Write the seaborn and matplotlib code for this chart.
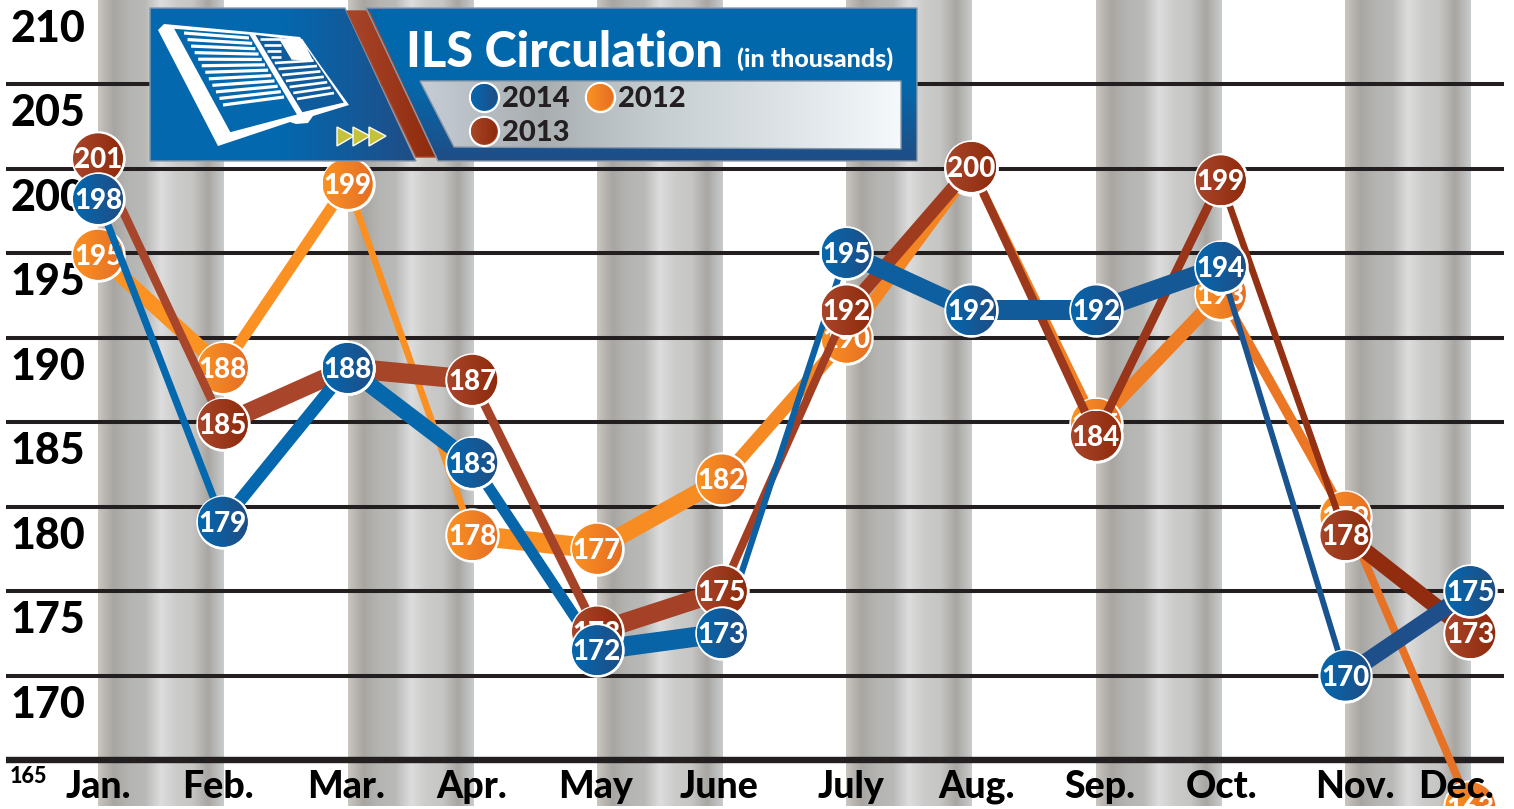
"""ILS circulation by month, 2012-2014, with the banner header."""

import matplotlib

matplotlib.use("Agg")

import matplotlib.pyplot as plt
import numpy as np
import seaborn as sns
from matplotlib.colors import LinearSegmentedColormap, to_rgb
from matplotlib.patches import Ellipse, Polygon

months = ["Jan.", "Feb.", "Mar.", "Apr.", "May", "June", "July", "Aug.", "Sep.", "Oct.", "Nov.", "Dec."]
y_ticks = [210, 205, 200, 195, 190, 185, 180, 175, 170]

# values as they sit on the picture, labels as printed on the bubbles
values_2012 = [194.9, 188.2, 199.1, 178.3, 177.5, 181.6, 190.0, 200.0, 184.9, 192.6, 179.4, 162.2]
values_2013 = [200.6, 184.9, 188.2, 187.5, 172.6, 175.0, 191.6, 200.1, 184.2, 199.3, 178.3, 172.5]
values_2014 = [198.2, 179.1, 188.2, 182.6, 171.5, 172.5, 195.0, 191.6, 191.6, 194.2, 170.0, 175.0]
labels_2012 = [195, 188, 199, 178, 177, 182, 190, 200, 185, 193, 179, 163]
labels_2013 = [201, 185, 188, 187, 173, 175, 192, 200, 184, 199, 178, 173]
labels_2014 = [198, 179, 188, 183, 172, 173, 195, 192, 192, 194, 170, 175]

W, H = 1514, 809
X0, DX = 98.0, 124.75  # pixel of Jan. and pixels per month
Y165, DY = 760.0, 16.9  # pixel of 165 and pixels per unit
FONT = ["Lato", "DejaVu Sans"]
BLUE = ("#0468ae", "#204d86")
ORANGE = ("#fb9222", "#e56e25")
BROWN = ("#a8462b", "#8f2a0b")
DARK = "#231f20"

sns.set_theme(style="white")
plt.rcParams["font.family"] = FONT

fig = plt.figure(figsize=(W / 100, H / 100), dpi=100)
ax = fig.add_axes([0, 0, 1, 1])
ax.axis("off")


def cmap(*colors):
    return LinearSegmentedColormap.from_list("g", colors)


def gradient(target, extent, colors, zorder, clip=None, vertical=False):
    ramp = np.linspace(0, 1, 256).reshape(-1, 1) if vertical else np.linspace(0, 1, 256).reshape(1, -1)
    im = target.imshow(ramp, extent=extent, cmap=cmap(*colors), aspect="auto", zorder=zorder, interpolation="bilinear")
    if clip is not None:
        im.set_clip_path(clip)
    return im


def draw_lines(values, colors, zorder):
    # the source was stretched sideways: every segment has the same vertical thickness
    a, b = np.array(to_rgb(colors[0])), np.array(to_rgb(colors[1]))
    for i in range(len(values) - 1):
        dy = (values[i + 1] - values[i]) * DY
        width = 20 * 0.72 * DX / np.hypot(DX, dy)
        mix = (i + 0.5) / (len(values) - 1)
        sns.lineplot(
            x=[i, i + 1], y=values[i:i + 2], ax=ax, color=tuple(a + (b - a) * mix ** 2),
            linewidth=width, zorder=zorder, solid_capstyle="butt", legend=False, errorbar=None,
        )


def draw_bubbles(values, labels, colors, zorder):
    xs = list(range(len(values)))
    sns.scatterplot(x=xs, y=values, ax=ax, s=1370, color=colors[0], edgecolor="white", linewidth=2.2,
                    zorder=zorder, legend=False, clip_on=True)
    rx, ry = 25 / DX, 25 / DY
    for x, v, lab in zip(xs, values, labels):
        circle = Ellipse((x, v), 2 * rx, 2 * ry, transform=ax.transData)
        gradient(ax, (x - rx, x + rx, v - ry, v + ry), colors, zorder + 0.1, clip=circle)
        ax.text(x, v - 0.12, str(lab), color="white", fontsize=20, fontweight="black",
                ha="center", va="center", zorder=zorder + 0.2)


# grey columns, every other month
band = ("#c9c5bf", "#a8a6a2", "#b5b5b3", "#b9b9b8", "#dddddd", "#cbcbca", "#c6c6c5", "#a8a6a2", "#c8cccc")
for i in range(0, 12, 2):
    gradient(ax, (i, i + 1.01, 162.28, 210.2), band, 1)

for t in y_ticks[1:]:
    ax.hlines(t, (6 - X0) / DX, (1504 - X0) / DX, color=DARK, linewidth=2.9, zorder=2)
ax.hlines(165, (6 - X0) / DX, (1504 - X0) / DX, color=DARK, linewidth=4.6, zorder=2)

for t in y_ticks:
    ax.text((10 - X0) / DX, t - 1.72, str(t), color="black", fontsize=31, fontweight="black",
            ha="left", va="center", zorder=2.5)
ax.text((10 - X0) / DX, 165 - 1.0, "165", color="black", fontsize=15.5, fontweight="black",
        ha="left", va="center", zorder=2.5)

draw_lines(values_2012, ORANGE, 3)
draw_bubbles(values_2012, labels_2012, ORANGE, 4)
draw_lines(values_2013, BROWN, 5)
draw_lines(values_2014, BLUE, 6)
draw_bubbles(values_2013, labels_2013, BROWN, 7)
draw_bubbles(values_2014, labels_2014, BLUE, 8)

ax.axhspan(162.0, 165 - 46 / DY, color="white", zorder=9, linewidth=0)
ax.set_xlim(-X0 / DX, (W - X0) / DX)
ax.set_ylim(165 - (H - Y165) / DY, 165 + Y165 / DY)

# banner and month names, laid out in pixels
top = fig.add_axes([0, 0, 1, 1], facecolor="none")
top.axis("off")

month_px = [98, 218, 346, 472, 596, 719, 851, 977, 1100, 1222, 1355, 1456]
for px, name in zip(month_px, months):
    top.text(px, 787, name, color="black", fontsize=27, fontweight="black", ha="center", va="center", zorder=20)


def panel(points, colors, zorder, vertical=False, edge="#8b98a8"):
    poly = Polygon(points, closed=True, facecolor="none", edgecolor=edge, linewidth=1, zorder=zorder + 0.1,
                   transform=top.transData)
    top.add_patch(poly)
    xs, ys = zip(*points)
    gradient(top, (min(xs), max(xs), max(ys), min(ys)), colors, zorder, clip=poly, vertical=vertical)


panel([(150, 8), (345, 8), (416, 161), (150, 161)], ("#0468ae", "#0468ae", "#204d86"), 10)
panel([(347, 11), (369, 11), (436, 157), (416, 157)], ("#a8462b", "#8f2a0b"), 10, edge="#a8462b")
panel([(366, 8), (917, 8), (917, 161), (438, 161)], ("#0168ae", "#0468ab", "#204d85"), 10, vertical=True)
panel([(420, 81), (901, 81), (901, 149), (454, 147)],
      ("#c6cdd6", "#a8aeb0", "#c7ced2", "#dce2e6", "#f5f9fc"), 11)

# book icon
top.add_patch(Polygon([(158, 30), (164, 24), (250, 32), (300, 37), (349, 105), (313, 116), (308, 123), (296, 124),
                       (290, 122), (218, 146)], closed=True, facecolor="white", edgecolor="none", zorder=12))
top.add_patch(Polygon([(173, 28), (250, 34), (298, 115), (230, 133)], closed=True, facecolor="#0468ae", zorder=12.1))
top.add_patch(Polygon([(254, 34), (302, 40), (345, 103), (302, 113)], closed=True, facecolor="#0f5b9c", zorder=12.1))
for t in np.linspace(0, 1, 12):
    xa, ya = 184 + (223 - 184) * t, 33 + (105 - 33) * t
    xb, yb = 249 + (284 - 249) * t, 38 + (97 - 38) * t
    top.plot([xa, xb], [ya, yb], color="white", linewidth=2.3, zorder=12.2, solid_capstyle="butt")
for t in np.linspace(0, 1, 11):
    xa, ya = 260 + (297 - 260) * t, 39 + (99 - 39) * t
    xb = (281 if t < 0.35 else 300 + (334 - 300) * t)
    yb = ya - (0 if t < 0.35 else 6 * t)
    top.plot([xa, xb], [ya, yb], color="white", linewidth=1.9, zorder=12.2, solid_capstyle="butt")
top.add_patch(Polygon([(280, 39), (302, 40), (312, 60), (292, 59)], closed=True, facecolor="white", zorder=12.3))
top.plot([253, 300], [35, 113], color="white", linewidth=1.6, zorder=12.3)
for px in (337, 353, 369):
    top.add_patch(Polygon([(px, 127), (px + 17, 136), (px, 146)], closed=True, facecolor="#c4c23a", zorder=12.4))

top.text(406, 52, "ILS Circulation", color="white", fontsize=35, fontweight="black", ha="left", va="center", zorder=13)
top.text(737, 59, "(in thousands)", color="white", fontsize=18, fontweight="black", ha="left", va="center", zorder=13)

legend_items = [("2014", BLUE, 484, 97), ("2012", ORANGE, 600, 97), ("2013", BROWN, 484, 131)]
for name, colors, px, py in legend_items:
    top.scatter([px], [py], s=440, color=colors[0], edgecolor="white", linewidth=1.6, zorder=13)
    dot = Ellipse((px, py), 26, 26, transform=top.transData)
    gradient(top, (px - 13, px + 13, py + 13, py - 13), colors, 13.1, clip=dot)
    top.text(px + 18, py + 2, name, color=DARK, fontsize=21, fontweight="black", ha="left", va="center", zorder=13.2)

top.set_xlim(0, W)
top.set_ylim(H, 0)

fig.savefig("out.png", dpi=100)
plt.close(fig)
